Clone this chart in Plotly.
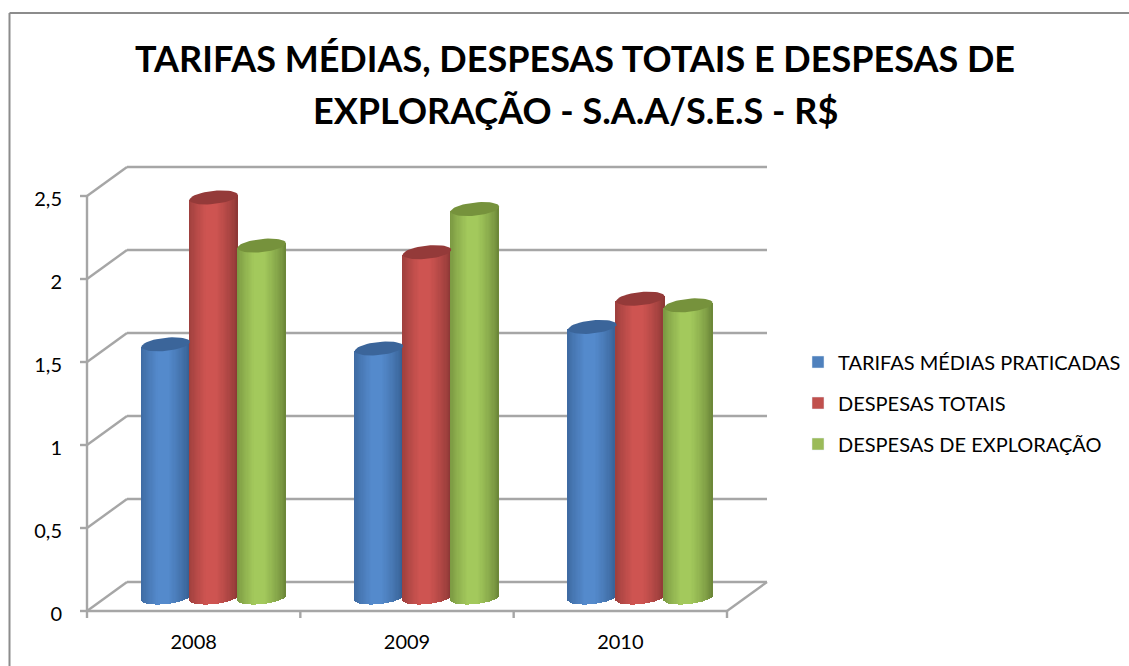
import plotly.graph_objects as go
from math import cos, sin, pi

# ---------- data ----------
categories = ["2008", "2009", "2010"]
tarifas = [1.525, 1.50, 1.63]
despesas_totais = [2.41, 2.08, 1.80]
despesas_exploracao = [2.12, 2.34, 1.76]
y_ticks = [0, 0.5, 1, 1.5, 2, 2.5]
y_tick_labels = ["0", "0,5", "1", "1,5", "2", "2,5"]
series_names = ["TARIFAS MÉDIAS PRATICADAS", "DESPESAS TOTAIS", "DESPESAS DE EXPLORAÇÃO"]
title_line_1 = "TARIFAS MÉDIAS, DESPESAS TOTAIS E DESPESAS DE"
title_line_2 = "EXPLORAÇÃO - S.A.A/S.E.S - R$"

# ---------- page geometry ----------
W, H = 1129, 666
X0, X_UNIT = 87, 640 / 3      # pixel of category edge 0, pixels per category
Y0, Y_UNIT = 611, 166         # pixel of value 0, pixels per value unit
DX, DY = 40 / X_UNIT, 29 / Y_UNIT   # depth of the 3-D box in axis units
BAR_STEP = 48 / X_UNIT
BAR_HALF = 24.2 / X_UNIT
CAP_B = 6.6 / Y_UNIT
CAP_TILT = 2.4 / Y_UNIT
BASE = 13.5 / Y_UNIT
LABEL_DROP = 2.5 / Y_UNIT     # tick labels sit slightly under their ticks
GRID = "#a6a6a6"
FONT = "Lato"

# (edge colour, centre colour, cap colour, legend colour)
palette = [
    ((52, 92, 142), (84, 138, 204), "#3b659a", "#4f81bd"),
    ((136, 54, 52), (206, 84, 81), "#943a39", "#c0504d"),
    ((104, 130, 54), (163, 201, 92), "#76923c", "#9bbb59"),
]


def shade(c0, c1, t):
    return "rgb(%d,%d,%d)" % tuple(round(a + (b - a) * t) for a, b in zip(c0, c1))


def profile(u):
    """Shading across the cylinder, u in [-1, 1]."""
    t = max(0.0, 1 - abs(u + 0.08) / 1.08)
    return min(1.0, (t ** 0.7) * 1.15)


def ellipse(xc, yc, n=49):
    xs, ys = [], []
    for i in range(n):
        a = 2 * pi * i / (n - 1)
        xs.append(xc + BAR_HALF * cos(a))
        ys.append(yc + CAP_B * sin(a) + CAP_TILT * cos(a))
    return xs, ys


fig = go.Figure()
all_series = [tarifas, despesas_totais, despesas_exploracao]
STRIPS = 40

for s, values in enumerate(all_series):
    edge, mid, cap, key = palette[s]
    xs, bases, heights, colors = [], [], [], []
    for c, v in enumerate(values):
        xc = c + 0.5 + DX / 2 + (s - 1) * BAR_STEP
        for i in range(STRIPS):
            u = -1 + (2 * i + 1) / STRIPS
            low = BASE + CAP_TILT * u - CAP_B * (1 - u * u) ** 0.5
            top = BASE + v + CAP_TILT * u
            xs.append(xc + u * BAR_HALF)
            bases.append(low)
            heights.append(top - low)
            colors.append(shade(edge, mid, profile(u)))
    fig.add_trace(go.Bar(
        x=xs, y=heights, base=bases, width=2 * BAR_HALF / STRIPS * 1.35,
        marker=dict(color=colors, line=dict(width=0)),
        showlegend=False, hoverinfo="skip",
    ))

# cylinder tops
for s, values in enumerate(all_series):
    for c, v in enumerate(values):
        xc = c + 0.5 + DX / 2 + (s - 1) * BAR_STEP
        ex, ey = ellipse(xc, BASE + v)
        fig.add_trace(go.Scatter(
            x=ex, y=ey, mode="lines", fill="toself", fillcolor=palette[s][2],
            line=dict(width=0), showlegend=False, hoverinfo="skip",
        ))

# legend entries
for s, name in enumerate(series_names):
    fig.add_trace(go.Bar(
        x=[None], y=[None], name=name, legendgroup=name,
        marker=dict(color=palette[s][3]), hoverinfo="skip",
    ))

# walls, floor and ticks, layered under the bars
n_cat = len(categories)
shapes = []


def seg(x0, y0, x1, y1):
    shapes.append(dict(type="line", xref="x", yref="y", x0=x0, y0=y0, x1=x1, y1=y1,
                       layer="below", line=dict(color=GRID, width=2.4)))


for v in y_ticks:
    seg(DX, v + DY, n_cat + DX, v + DY)
    seg(0, v, DX, v + DY)
    seg(-7 / X_UNIT, v, 0, v)
seg(0, 0, 0, y_ticks[-1])
seg(0, 0, n_cat, 0)
seg(n_cat, 0, n_cat + DX, DY)
for c in range(n_cat + 1):
    seg(c, 0, c, -7 / Y_UNIT)

# page frame
shapes.append(dict(type="line", xref="paper", yref="paper", x0=9.5 / W, x1=9.5 / W, y0=0, y1=1 - 13 / H,
                   line=dict(color="#8c8c8c", width=2)))
shapes.append(dict(type="line", xref="paper", yref="paper", x0=9.5 / W, x1=1, y0=1 - 13 / H, y1=1 - 13 / H,
                   line=dict(color="#8c8c8c", width=2)))

fig.update_layout(
    width=W, height=H, autosize=False,
    margin=dict(l=0, r=0, t=0, b=0),
    paper_bgcolor="white", plot_bgcolor="rgba(0,0,0,0)",
    barmode="overlay", bargap=0, shapes=shapes,
    font=dict(family=FONT, color="#000000"),
    title=dict(text=title_line_1, x=575 / W, xanchor="center", y=1 - 59 / H, yanchor="middle",
               font=dict(family=FONT, size=36, color="#000000", weight="bold")),
    annotations=[dict(text=title_line_2, xref="paper", yref="paper", x=575 / W, y=1 - 110 / H,
                      xanchor="center", yanchor="middle", showarrow=False,
                      font=dict(family=FONT, size=36, color="#000000", weight="bold"))],
    legend=dict(x=798 / W, xanchor="left", y=1 - 403 / H, yanchor="middle",
                font=dict(family=FONT, size=20, color="#000000"),
                bgcolor="rgba(0,0,0,0)", tracegroupgap=12, itemclick=False, itemdoubleclick=False),
    xaxis=dict(
        range=[-X0 / X_UNIT, (W - X0) / X_UNIT], domain=[0, 1],
        tickmode="array", tickvals=[c + 0.5 for c in range(n_cat)], ticktext=categories,
        showgrid=False, zeroline=False, showline=False,
        anchor="free", position=(H - Y0) / H,
        ticks="outside", ticklen=13, tickcolor="rgba(0,0,0,0)",
        tickfont=dict(family=FONT, size=20, color="#000000"),
    ),
    yaxis=dict(
        range=[-(H - Y0) / Y_UNIT, Y0 / Y_UNIT], domain=[0, 1],
        tickmode="array", tickvals=[v - LABEL_DROP for v in y_ticks], ticktext=y_tick_labels,
        showgrid=False, zeroline=False, showline=False,
        anchor="free", position=X0 / W,
        ticks="outside", ticklen=21, tickcolor="rgba(0,0,0,0)",
        tickfont=dict(family=FONT, size=20, color="#000000"),
    ),
)
fig.write_html("out.html", config={"displayModeBar": False},
               post_script="document.body.style.margin='0';document.body.style.overflow='hidden';")
